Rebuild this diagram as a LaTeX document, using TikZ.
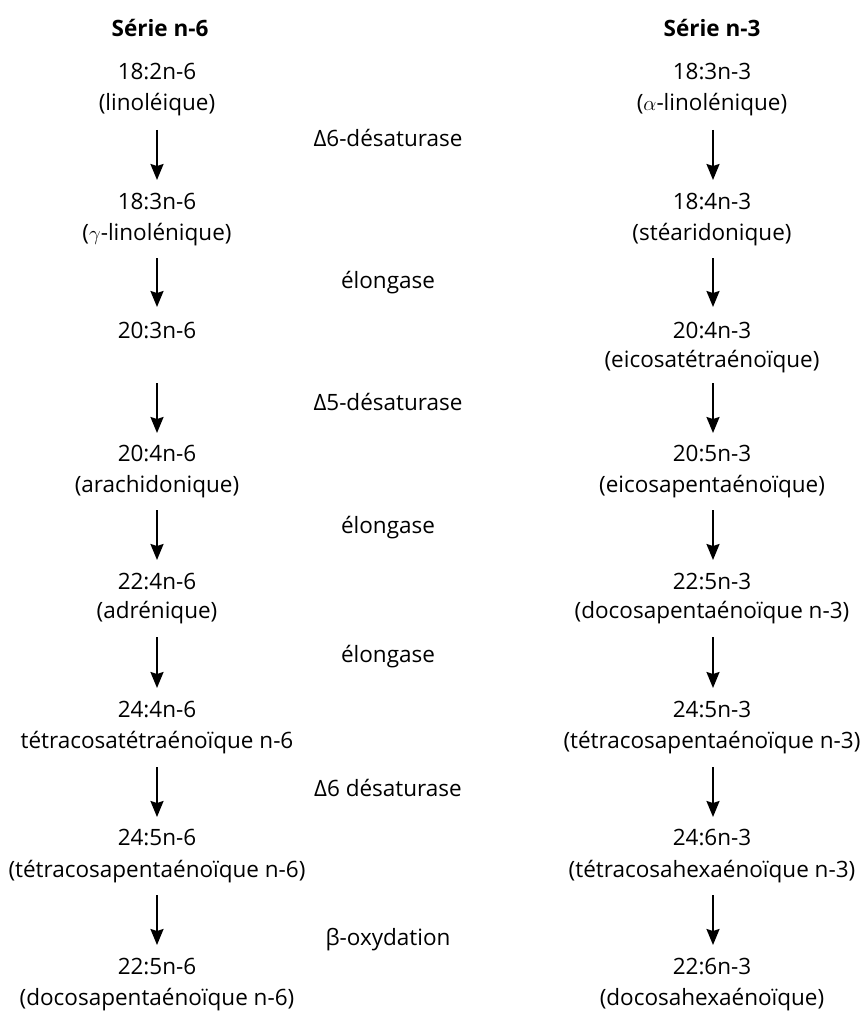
\documentclass[tikz,border=0pt]{standalone}
\usepackage{fontspec}
\setmainfont{Open Sans}
\usetikzlibrary{arrows.meta}
\tikzset{
  txt/.style={inner sep=0pt, anchor=center, font=\fontsize{22.5}{27}\selectfont},
  hdr/.style={txt, font=\fontsize{22.5}{27}\selectfont\bfseries},
  arr/.style={line width=2pt, -{Stealth[length=16pt,width=13pt,inset=2pt]}},
}
\begin{document}
\begin{tikzpicture}[x=1pt,y=-1pt]
\useasboundingbox (0,0) rectangle (866,1014);
% headers
\node[hdr] (h6) at (160,28) {Série n-6};
\node[hdr] (h3) at (712,28) {Série n-3};
% left column
\node[txt] (l1a) at (157,72) {18:2n-6};
\node[txt] (l1b) at (157,105) {(linoléique)};
\node[txt] (l2a) at (157,202) {18:3n-6};
\node[txt] (l2b) at (157,235) {($\gamma$-linolénique)};
\node[txt] (l3a) at (157,330) {20:3n-6};
\node[txt] (l4a) at (157,453) {20:4n-6};
\node[txt] (l4b) at (157,487) {(arachidonique)};
\node[txt] (l5a) at (157,582) {22:4n-6};
\node[txt] (l5b) at (157,613) {(adrénique)};
\node[txt] (l6a) at (157,710) {24:4n-6};
\node[txt] (l6b) at (157,743) {tétracosatétraénoïque n-6};
\node[txt] (l7a) at (157,838) {24:5n-6};
\node[txt] (l7b) at (157,872) {(tétracosapentaénoïque n-6)};
\node[txt] (l8a) at (157,967) {22:5n-6};
\node[txt] (l8b) at (157,1000) {(docosapentaénoïque n-6)};
% right column
\node[txt] (r1a) at (712,72) {18:3n-3};
\node[txt] (r1b) at (712,105) {($\alpha$-linolénique)};
\node[txt] (r2a) at (712,202) {18:4n-3};
\node[txt] (r2b) at (712,235) {(stéaridonique)};
\node[txt] (r3a) at (712,330) {20:4n-3};
\node[txt] (r3b) at (712,362) {(eicosatétraénoïque)};
\node[txt] (r4a) at (712,453) {20:5n-3};
\node[txt] (r4b) at (712,487) {(eicosapentaénoïque)};
\node[txt] (r5a) at (712,582) {22:5n-3};
\node[txt] (r5b) at (712,613) {(docosapentaénoïque n-3)};
\node[txt] (r6a) at (712,710) {24:5n-3};
\node[txt] (r6b) at (712,743) {(tétracosapentaénoïque n-3)};
\node[txt] (r7a) at (712,838) {24:6n-3};
\node[txt] (r7b) at (712,872) {(tétracosahexaénoïque n-3)};
\node[txt] (r8a) at (712,967) {22:6n-3};
\node[txt] (r8b) at (712,1000) {(docosahexaénoïque)};
% enzymes
\node[txt] (e1) at (388,138) {Δ6-désaturase};
\node[txt] (e2) at (388,283) {élongase};
\node[txt] (e3) at (388,402) {Δ5-désaturase};
\node[txt] (e4) at (388,528) {élongase};
\node[txt] (e5) at (388,657) {élongase};
\node[txt] (e6) at (388,788) {Δ6 désaturase};
\node[txt] (e7) at (388,940) {β-oxydation};
% arrow end coordinates
\foreach \i/\s/\e in {1/130/180,2/258/307,3/383/433,4/510/560,5/637/688,6/767/817,7/895/945}{
  \coordinate (ls\i) at (157,\s); \coordinate (le\i) at (157,\e);
  \coordinate (rs\i) at (713,\s); \coordinate (re\i) at (713,\e);
}
\foreach \i in {1,...,7}{
  \draw[arr] (ls\i) -- (le\i);
  \draw[arr] (rs\i) -- (re\i);
}
\end{tikzpicture}
\end{document}
